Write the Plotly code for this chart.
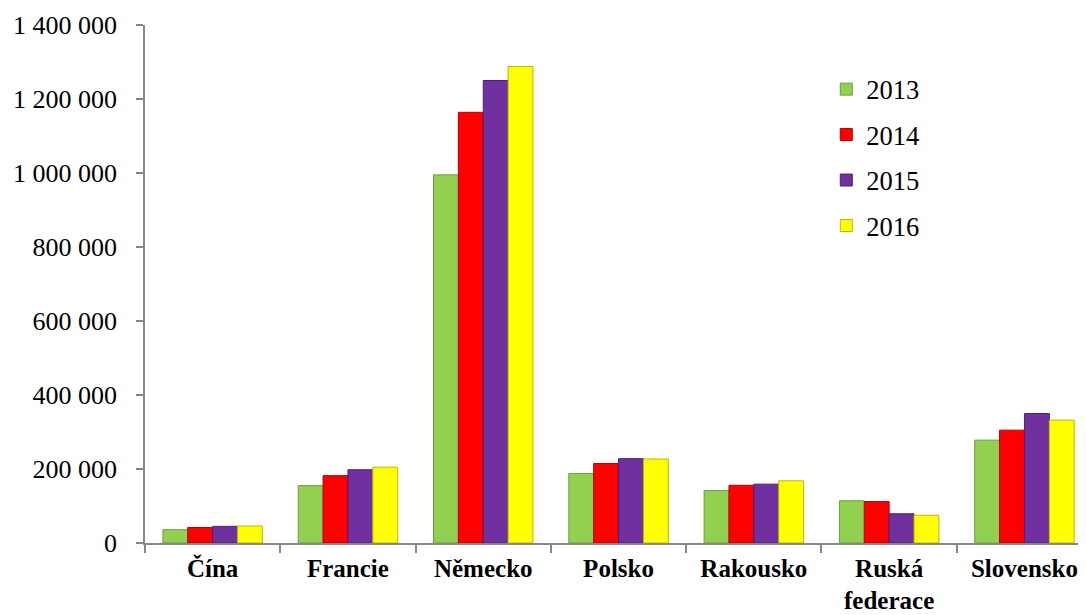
import plotly.graph_objects as go

categories = ["Čína", "Francie", "Německo", "Polsko", "Rakousko", "Ruská<br>federace", "Slovensko"]
years = ["2013", "2014", "2015", "2016"]
v2013 = [36000, 155000, 995000, 188000, 142000, 114000, 278000]
v2014 = [42000, 182000, 1164000, 215000, 156000, 112000, 305000]
v2015 = [45000, 198000, 1250000, 228000, 159000, 79000, 350000]
v2016 = [46000, 205000, 1288000, 227000, 168000, 75000, 332000]
series = [v2013, v2014, v2015, v2016]
colors = ["#92D050", "#FF0000", "#7030A0", "#FFFF00"]
edges = ["#6E9E3A", "#B00000", "#4E1F73", "#B8B800"]

font_family = "Liberation Serif"

fig = go.Figure()
for i, (yr, vals) in enumerate(zip(years, series)):
    fig.add_trace(go.Bar(
        x=categories, y=vals, name=yr, legendgroup=yr,
        marker=dict(color=colors[i], line=dict(color=edges[i], width=1)),
    ))

fig.update_layout(
    width=1078, height=607,
    margin=dict(l=137, r=0, t=17, b=72, autoexpand=False),
    paper_bgcolor="white", plot_bgcolor="white",
    barmode="group", bargap=0.265, bargroupgap=0,
    separators=", ",
    font=dict(family=font_family, size=26, color="black"),
    legend=dict(x=0.724, y=0.922, xanchor="left", yanchor="top",
                traceorder="grouped", tracegroupgap=8,
                font=dict(family=font_family, size=26.5, color="black"),
                bgcolor="rgba(0,0,0,0)"),
    showlegend=True,
)
fig.update_xaxes(
    automargin=False, range=[-0.5, 6.455],
    showline=True, linecolor="#868686", linewidth=1.5,
    ticks="outside", tickson="boundaries", ticklen=8, tickcolor="#868686", tickwidth=1.5,
    tickfont=dict(family=font_family, size=25, color="black", weight="bold"),
    ticklabelstandoff=2,
    showgrid=False,
)
fig.update_yaxes(
    automargin=False,
    range=[0, 1400000], dtick=200000, tickformat=",d",
    showline=True, linecolor="#868686", linewidth=1.5,
    ticks="outside", ticklen=7, tickcolor="#868686", tickwidth=1.5,
    tickfont=dict(family=font_family, size=26, color="black"),
    ticklabelstandoff=14,
    showgrid=False, zeroline=False,
)

fig.write_html("out.html")
